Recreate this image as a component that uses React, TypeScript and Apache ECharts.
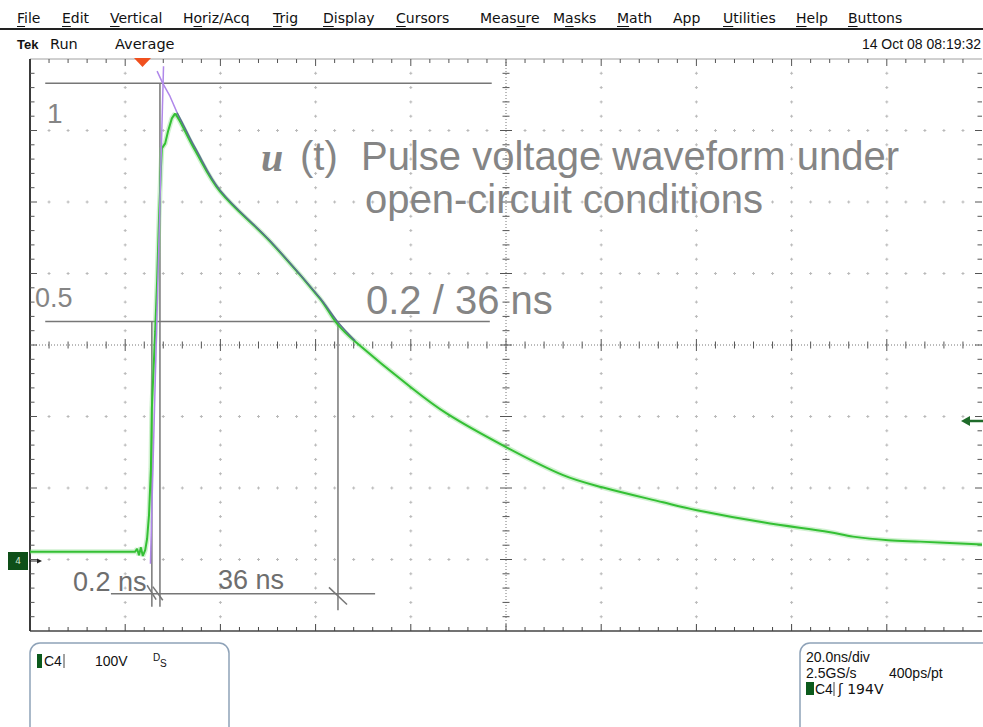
import React, { useEffect, useRef } from "react";
import * as echarts from "echarts";

// Oscilloscope scale: 20 ns/div horizontally, 100 V/div vertically, ground 1 div above the bottom
const X_MIN = 0, X_MAX = 200, X_DIV = 20;
const Y_MIN = -100, Y_MAX = 700, Y_DIV = 100;

// Averaged C4 trace (ns, V)
const traceTimeNs = [0, 22.1, 22.5, 22.9, 23.3, 23.7, 24.2, 24.6, 25.0, 25.4, 25.6, 26.3, 26.7, 27.1, 27.5, 27.7, 28.4, 29.0, 29.8, 30.5, 31.5, 34.7, 39.9, 50.4, 60.9, 64.5, 68.3, 79.8, 87.6, 99.8, 112.0, 120.2, 133.0, 140.1, 154.0, 168.1, 172.9, 180.3, 187.0, 200];
const traceVolt = [11, 11, 15, 6, 17, 5, 13, 29, 62, 127, 211, 319, 389, 477, 547, 575, 582, 599, 617, 624, 613, 572, 515, 445, 365, 330, 305, 242, 204, 158, 118, 101, 80, 69, 52, 38, 32, 27, 25, 21];
const PEAK_INDEX = 19;

// Fitted exponential overlay (purple)
const fitTopTimeNs = [26.7, 27.9, 29.4, 30.9];
const fitTopVolt = [683, 666, 648, 625];
const fitTimeNs = [30.9, 32.6, 34.7, 39.9, 50.4, 60.9, 64.7, 68.3];
const fitVolt = [625, 603, 576, 517, 446, 366, 332, 306];
const riseFitTimeNs = [25.3, 28.05];
const riseFitVolt = [-6, 690];

// Annotation levels and markers
const levelVolt = [666, 333]; // "1" and "0.5"
const levelStartNs = 3.2;
const levelEndNs = [97, 96.6];
const riseStartNs = 25.6;
const riseEndNs = 27.3;
const halfDecayNs = 64.7;
const dimVolt = -48;
const dimRangeNs = [17, 72.5];
const markerBottomVolt = [-66, -66, -71];
const slashes = [
  [[24.6, -36], [26.5, -56]],
  [[25.8, -38], [27.9, -57]],
  [[62.8, -39], [66.6, -63]],
];

const menuItems = ["File", "Edit", "Vertical", "Horiz/Acq", "Trig", "Display", "Cursors", "Measure", "Masks", "Math", "App", "Utilities", "Help", "Buttons"];
const menuX = [17, 62, 110, 183, 273, 323, 396, 480, 553, 617, 673, 723, 796, 848];
const menuMnemonic = [0, 0, 0, 1, 0, 0, 0, 4, 1, 0, -1, 0, 0, 0];

const GRAY = "#858585";
const LINE_GRAY = "#777777";

function zip(xs: number[], ys: number[]) {
  return xs.map((x, i) => [x, ys[i]]);
}

function renderGraticule(_params: any, api: any) {
  const ch: any[] = [];
  const c = (x: number, y: number) => api.coord([x, y]);
  const xm = X_DIV / 5, ym = Y_DIV / 5;
  const nx = Math.round((X_MAX - X_MIN) / xm);
  const ny = Math.round((Y_MAX - Y_MIN) / ym);
  const xc = (X_MIN + X_MAX) / 2, yc = (Y_MIN + Y_MAX) / 2;
  const line = (x1: number, y1: number, x2: number, y2: number, stroke: string, lw: number, dash?: number[]) =>
    ch.push({ type: "line", shape: { x1, y1, x2, y2 }, style: { stroke, lineWidth: lw, lineDash: dash || null } });
  const cross = (px: number, py: number) => {
    ch.push({ type: "rect", shape: { x: px - 1.5, y: py - 0.5, width: 3, height: 1 }, style: { fill: "#b9b9b9" } });
    ch.push({ type: "rect", shape: { x: px - 0.5, y: py - 1.5, width: 1, height: 3 }, style: { fill: "#b9b9b9" } });
  };
  const ndx = Math.round((X_MAX - X_MIN) / X_DIV);
  const ndy = Math.round((Y_MAX - Y_MIN) / Y_DIV);
  for (let i = 1; i < ndx; i++) {
    const x = X_MIN + i * X_DIV;
    if (x === xc) continue;
    for (let j = 1; j < ny; j++) {
      const [px, py] = c(x, Y_MIN + j * ym);
      cross(px, py);
    }
  }
  for (let j = 1; j < ndy; j++) {
    const y = Y_MIN + j * Y_DIV;
    if (y === yc) continue;
    for (let i = 1; i < nx; i++) {
      if (i % 5 === 0) continue;
      const [px, py] = c(X_MIN + i * xm, y);
      cross(px, py);
    }
  }
  const [l, b] = c(X_MIN, Y_MIN);
  const [r, t] = c(X_MAX, Y_MAX);
  const [cx, cy] = c(xc, yc);
  line(l, cy, r, cy, "#777", 1, [1, 2]);
  line(cx, t, cx, b, "#777", 1, [1, 2]);
  for (let i = 1; i < nx; i++) {
    const [px] = c(X_MIN + i * xm, yc);
    const len = i % 5 === 0 ? 6 : 3.5;
    line(px, cy - len, px, cy + len, "#555", 1);
  }
  for (let j = 1; j < ny; j++) {
    const [, py] = c(xc, Y_MIN + j * ym);
    const len = j % 5 === 0 ? 6 : 3.5;
    line(cx - len, py, cx + len, py, "#555", 1);
  }
  line(l, t, r, t, "#a0a0a0", 1);
  line(l, b, r, b, "#444", 1.5);
  line(l, t, l, b, "#3a3a3a", 2);
  for (let i = 1; i < nx; i++) {
    const [px] = c(X_MIN + i * xm, Y_MIN);
    const len = i % 5 === 0 ? 7 : 4;
    line(px, t, px, t + len, "#555", 1);
    line(px, b - len, px, b, "#444", 1);
  }
  for (let j = 1; j < ny; j++) {
    const [, py] = c(X_MIN, Y_MIN + j * ym);
    const len = j % 5 === 0 ? 7 : 4.5;
    line(l, py, l + len, py, "#555", 1);
    line(r - len, py, r, py, "#555", 1);
  }
  return { type: "group", children: ch };
}

function measure(text: string, font: string) {
  const cv = document.createElement("canvas");
  const ctx = cv.getContext("2d");
  if (!ctx) return text.length * 8;
  ctx.font = font;
  return ctx.measureText(text).width;
}

export default function App() {
  const ref = useRef<HTMLDivElement>(null);
  useEffect(() => {
    document.body.style.margin = "0";
    if (!ref.current) return;
    const chart = echarts.init(ref.current, null, { renderer: "svg" });

    const annoSegments: number[][][] = [
      [[levelStartNs, levelVolt[0]], [levelEndNs[0], levelVolt[0]]],
      [[levelStartNs, levelVolt[1]], [levelEndNs[1], levelVolt[1]]],
      [[riseStartNs, levelVolt[1]], [riseStartNs, markerBottomVolt[0]]],
      [[riseEndNs, levelVolt[0]], [riseEndNs, markerBottomVolt[1]]],
      [[halfDecayNs, levelVolt[1]], [halfDecayNs, markerBottomVolt[2]]],
      [[dimRangeNs[0], dimVolt], [dimRangeNs[1], dimVolt]],
      ...slashes,
    ];

    const traceAll = zip(traceTimeNs, traceVolt);
    const traceRise = traceAll.slice(0, PEAK_INDEX + 1);
    const traceDecay = traceAll.slice(PEAK_INDEX);

    const menuFont = '14px "DejaVu Sans"';
    const graphics: any[] = [];
    menuItems.forEach((m, i) => {
      graphics.push({ type: "text", x: menuX[i], y: 18, z: 20, style: { text: m, font: menuFont, fill: "#111", textVerticalAlign: "middle" } });
      const k = menuMnemonic[i];
      if (k >= 0) {
        const off = measure(m.slice(0, k), menuFont);
        const w = measure(m[k], menuFont);
        graphics.push({ type: "line", z: 20, shape: { x1: menuX[i] + off, y1: 26.5, x2: menuX[i] + off + w, y2: 26.5 }, style: { stroke: "#111", lineWidth: 1 } });
      }
    });
    graphics.push(
      { type: "line", z: 20, shape: { x1: 0, y1: 29, x2: 983, y2: 29 }, style: { stroke: "#222", lineWidth: 2 } },
      { type: "text", x: 17, y: 44, z: 20, style: { text: "Tek", font: 'bold 13px "Liberation Sans"', fill: "#111", textVerticalAlign: "middle" } },
      { type: "text", x: 50, y: 44, z: 20, style: { text: "Run", font: '14.5px "DejaVu Sans"', fill: "#111", textVerticalAlign: "middle" } },
      { type: "text", x: 115, y: 44, z: 20, style: { text: "Average", font: '14.5px "DejaVu Sans"', fill: "#111", textVerticalAlign: "middle" } },
      { type: "text", x: 981, y: 44, z: 20, style: { text: "14 Oct 08 08:19:32", font: '14px "Liberation Sans"', fill: "#111", textAlign: "right", textVerticalAlign: "middle" } },
      { type: "polygon", z: 20, shape: { points: [[134, 58], [151, 58], [142.5, 67]] }, style: { fill: "#f0501e" } },
      { type: "rect", z: 20, shape: { x: 8, y: 552, width: 20, height: 18 }, style: { fill: "#0e4f18" } },
      { type: "text", x: 18, y: 561, z: 21, style: { text: "4", font: '9px "DejaVu Sans"', fill: "#cfe8cf", textAlign: "center", textVerticalAlign: "middle" } },
      { type: "line", z: 20, shape: { x1: 29, y1: 561, x2: 39, y2: 561 }, style: { stroke: "#222", lineWidth: 1 } },
      { type: "polygon", z: 20, shape: { points: [[42, 561], [37, 558.5], [37, 563.5]] }, style: { fill: "#222" } },
      { type: "line", z: 20, shape: { x1: 968, y1: 421, x2: 983, y2: 421 }, style: { stroke: "#1f6b2a", lineWidth: 2.5 } },
      { type: "polygon", z: 20, shape: { points: [[961, 421], [970, 416], [970, 426]] }, style: { fill: "#1f6b2a" } },
      { type: "text", x: 47, y: 113, z: 20, style: { text: "1", font: '28px "Liberation Sans"', fill: GRAY, textVerticalAlign: "middle" } },
      { type: "text", x: 35, y: 298, z: 20, style: { text: "0.5", font: '27px "Liberation Sans"', fill: GRAY, textVerticalAlign: "middle" } },
      { type: "text", x: 261, y: 157, z: 20, style: { text: "u", font: 'italic bold 40px "Liberation Serif"', fill: GRAY, textVerticalAlign: "middle" } },
      { type: "text", x: 300, y: 156, z: 20, style: { text: "(t)", font: '40px "Liberation Sans"', fill: GRAY, textVerticalAlign: "middle" } },
      { type: "text", x: 361, y: 156, z: 20, style: { text: "Pulse voltage waveform under", font: '40px "Liberation Sans"', fill: GRAY, textVerticalAlign: "middle" } },
      { type: "text", x: 365, y: 199, z: 20, style: { text: "open-circuit conditions", font: '40px "Liberation Sans"', fill: GRAY, textVerticalAlign: "middle" } },
      { type: "text", x: 366, y: 300, z: 20, style: { text: "0.2 / 36 ns", font: '40px "Liberation Sans"', fill: GRAY, textVerticalAlign: "middle" } },
      { type: "text", x: 73, y: 582, z: 20, style: { text: "0.2 ns", font: '27px "Liberation Sans"', fill: "#6e6e6e", textVerticalAlign: "middle" } },
      { type: "text", x: 218, y: 580, z: 20, style: { text: "36 ns", font: '27px "Liberation Sans"', fill: "#6e6e6e", textVerticalAlign: "middle" } },
      { type: "rect", z: 20, shape: { x: 30, y: 643, width: 199, height: 110, r: 10 }, style: { fill: "none", stroke: "#8ea2b8", lineWidth: 1.5 } },
      { type: "rect", z: 20, shape: { x: 800, y: 643, width: 200, height: 110, r: 10 }, style: { fill: "none", stroke: "#8ea2b8", lineWidth: 1.5 } },
      { type: "rect", z: 20, shape: { x: 37, y: 654, width: 5, height: 14 }, style: { fill: "#0b5a1c" } },
      { type: "text", x: 44, y: 661, z: 20, style: { text: "C4", font: '14px "Liberation Sans"', fill: "#111", textVerticalAlign: "middle" } },
      { type: "line", z: 20, shape: { x1: 64, y1: 654, x2: 64, y2: 668 }, style: { stroke: "#444", lineWidth: 1 } },
      { type: "text", x: 95, y: 661, z: 20, style: { text: "100V", font: '14px "Liberation Sans"', fill: "#111", textVerticalAlign: "middle" } },
      { type: "text", x: 153, y: 657, z: 20, style: { text: "D", font: '10px "Liberation Sans"', fill: "#111", textVerticalAlign: "middle" } },
      { type: "text", x: 160, y: 663, z: 20, style: { text: "S", font: '10px "Liberation Sans"', fill: "#111", textVerticalAlign: "middle" } },
      { type: "text", x: 806, y: 657, z: 20, style: { text: "20.0ns/div", font: '14px "Liberation Sans"', fill: "#111", textVerticalAlign: "middle" } },
      { type: "text", x: 806, y: 673, z: 20, style: { text: "2.5GS/s", font: '14px "Liberation Sans"', fill: "#111", textVerticalAlign: "middle" } },
      { type: "text", x: 889, y: 673, z: 20, style: { text: "400ps/pt", font: '14px "Liberation Sans"', fill: "#111", textVerticalAlign: "middle" } },
      { type: "rect", z: 20, shape: { x: 806, y: 682, width: 8, height: 13 }, style: { fill: "#0b5a1c" } },
      { type: "text", x: 815, y: 689, z: 20, style: { text: "C4", font: '14px "Liberation Sans"', fill: "#111", textVerticalAlign: "middle" } },
      { type: "line", z: 20, shape: { x1: 834, y1: 682, x2: 834, y2: 696 }, style: { stroke: "#444", lineWidth: 1 } },
      { type: "text", x: 838, y: 689, z: 20, style: { text: "ʃ 194V", font: '14px "DejaVu Sans"', fill: "#111", textVerticalAlign: "middle" } }
    );

    const traceLine = (name: string, data: number[][], smooth: number, color: string, width: number, z: number) => ({
      type: "line",
      name,
      data,
      symbol: "none",
      silent: true,
      smooth,
      lineStyle: { color, width },
      z,
    });

    const option: any = {
      animation: false,
      backgroundColor: "#ffffff",
      grid: { left: 30, top: 59, width: 952, height: 572, containLabel: false },
      xAxis: { type: "value", min: X_MIN, max: X_MAX, interval: X_DIV, show: false },
      yAxis: { type: "value", min: Y_MIN, max: Y_MAX, interval: Y_DIV, show: false },
      graphic: graphics,
      series: [
        {
          type: "custom",
          name: "graticule",
          coordinateSystem: "cartesian2d",
          renderItem: renderGraticule,
          data: [[X_MIN, Y_MIN]],
          clip: false,
          silent: true,
          z: 1,
        },
        ...annoSegments.map((seg, i) => ({
          type: "line",
          name: "anno" + i,
          data: seg,
          symbol: "none",
          silent: true,
          lineStyle: { color: LINE_GRAY, width: 1.5 },
          z: 2,
        })),
        traceLine("halo rise", traceRise, 0, "rgba(120,215,120,0.35)", 5, 3),
        traceLine("halo decay", traceDecay, 0.35, "rgba(120,215,120,0.35)", 5, 3),
        traceLine("C4 rise", traceRise, 0, "#34c034", 2, 4),
        traceLine("C4 decay", traceDecay, 0.35, "#34c034", 2, 4),
        traceLine("rise fit", zip(riseFitTimeNs, riseFitVolt), 0, "#b088ea", 1.5, 5),
        traceLine("decay fit top", zip(fitTopTimeNs, fitTopVolt), 0, "#b088ea", 1.5, 5),
        traceLine("decay fit", zip(fitTimeNs, fitVolt), 0.35, "#5a6f8f", 1.5, 5),
      ],
    };
    chart.setOption(option);
    return () => chart.dispose();
  }, []);
  return <div ref={ref} style={{ width: 983, height: 727 }} />;
}
